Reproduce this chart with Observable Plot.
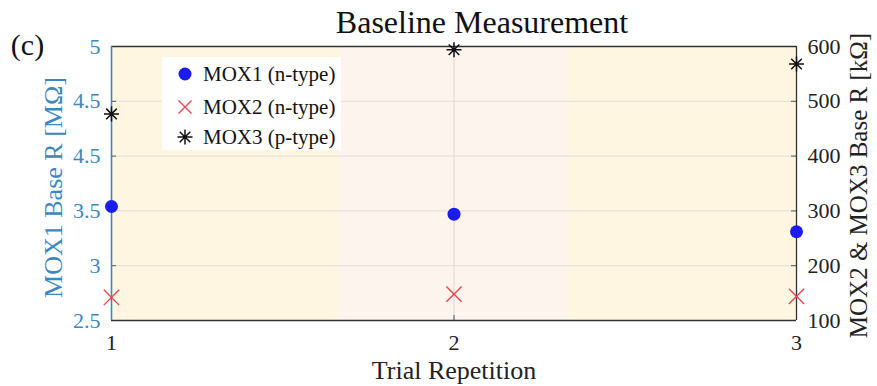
<!DOCTYPE html>
<html><head><meta charset="utf-8">
<script src="https://cdn.jsdelivr.net/npm/d3@7"></script>
<script src="https://cdn.jsdelivr.net/npm/@observablehq/plot@0.6"></script>
<style>
body{margin:0;background:#fff;}
#wrap{position:relative;width:877px;height:386px;font-family:"Liberation Serif","Times New Roman",serif;}
#legend{position:absolute;left:162px;top:57px;width:179px;height:93px;background:#fff;}
#legend .row{position:absolute;left:0;height:24px;display:flex;align-items:center;font-size:21px;color:#111;white-space:nowrap;}
#legend svg{width:36px;height:24px;margin-left:5px;}
</style></head><body><div id="wrap"><div id="legend"></div></div>
<script>
// ---- data ----
const trials = [1, 2, 3];
const mox1 = [3.54, 3.47, 3.31];      // MΩ (left axis)
const mox2 = [142, 148, 144];         // kΩ (right axis)
const mox3 = [477, 594, 568];         // kΩ (right axis)
const seriesNames = ["MOX1 (n-type)", "MOX2 (n-type)", "MOX3 (p-type)"];
const leftTicks = [2.5, 3, 3.5, 4, 4.5, 5];
const leftTickLabels = ["2.5", "3", "3.5", "4.5", "4.5", "5"];
const rightTicks = [100, 200, 300, 400, 500, 600];
const xTicks = [1, 2, 3];
const bandStart = [1, 5/3, 7/3];
const bandEnd = [5/3, 7/3, 3];
const bandFill = ["#fff6e2", "#fdf4ee", "#fff6e2"];

// ---- styles ----
const blue = "#3a88bf";
const c1 = "#1c1cee", c2 = "#e8444e", c3 = "#111";
const toLeft = v => 2.5 + (v - 100) / 200;   // map kΩ onto the left scale
const toRight = y => Math.round((y - 2.5) * 200 + 100);

// 8-armed asterisk (plus + times), like MATLAB's '*'
const star8 = {
  draw(ctx, size) {
    const r = Math.sqrt(size / Math.PI);
    const d = r * Math.SQRT1_2;
    ctx.moveTo(0, -r); ctx.lineTo(0, r);
    ctx.moveTo(-r, 0); ctx.lineTo(r, 0);
    ctx.moveTo(-d, -d); ctx.lineTo(d, d);
    ctx.moveTo(d, -d); ctx.lineTo(-d, d);
  }
};

const bands = bandStart.map((s, i) => ({s, e: bandEnd[i], f: bandFill[i]}));
const d1 = trials.map((t, i) => ({t, v: mox1[i]}));
const d2 = trials.map((t, i) => ({t, v: toLeft(mox2[i])}));
const d3v = trials.map((t, i) => ({t, v: toLeft(mox3[i])}));

const W = 877, H = 386, ML = 111, MR = 81, MT = 46, MB = 66;
const FW = W - ML - MR, FH = H - MT - MB;

const chart = Plot.plot({
  width: W, height: H,
  marginLeft: ML, marginRight: MR, marginTop: MT, marginBottom: MB,
  style: {fontFamily: '"Liberation Serif","Times New Roman",serif', background: "transparent", overflow: "visible"},
  x: {domain: [1, 3], axis: null},
  y: {domain: [2.5, 5], axis: null},
  marks: [
    Plot.rect(bands, {x1: "s", x2: "e", y1: 2.5, y2: 5, fill: "f"}),
    Plot.gridY(leftTicks, {stroke: "#e4ddd6", strokeOpacity: 1}),
    Plot.gridX(xTicks, {stroke: "#ddd6d0", strokeOpacity: 1}),
    Plot.tickY(leftTicks, {stroke: "#555", insetRight: FW - 5}),
    Plot.tickY(leftTicks, {stroke: "#555", insetLeft: FW - 5}),
    Plot.tickX(xTicks, {stroke: "#555", insetTop: FH - 5}),
    Plot.ruleY([5], {stroke: "#333", strokeWidth: 1.3}),
    Plot.ruleY([2.5], {stroke: "#333", strokeWidth: 1.3}),
    Plot.ruleX([3], {stroke: "#333", strokeWidth: 1.3}),
    Plot.ruleX([1], {stroke: blue, strokeWidth: 1.6}),
    Plot.axisY(leftTicks, {anchor: "left", tickSize: 0, tickPadding: 11, fontSize: 22, color: blue,
      tickFormat: d => leftTickLabels[leftTicks.indexOf(d)], label: null}),
    Plot.axisY(rightTicks.map(toLeft), {anchor: "right", tickSize: 0, tickPadding: 11, fontSize: 22, color: "#222",
      tickFormat: d => String(toRight(d)), label: null}),
    Plot.axisX(xTicks, {anchor: "bottom", tickSize: 0, tickPadding: 14, fontSize: 22, color: "#222",
      tickFormat: d => String(d), label: null}),
    Plot.dot(d1, {x: "t", y: "v", r: 6.5, fill: c1, stroke: "none", symbol: "circle"}),
    Plot.dot(d2, {x: "t", y: "v", r: 7, stroke: c2, strokeWidth: 1.4, symbol: "times"}),
    Plot.dot(d3v, {x: "t", y: "v", r: 7.5, stroke: c3, strokeWidth: 1.5, symbol: star8}),
    Plot.text(["Baseline Measurement"], {frameAnchor: "top", dx: 28, dy: -36, fontSize: 32, fill: "#111"}),
    Plot.text(["(c)"], {frameAnchor: "top-left", dx: -84, dy: -13, fontSize: 30, fill: "#111", textAnchor: "middle"}),
    Plot.text(["Trial Repetition"], {frameAnchor: "bottom", dy: 58, fontSize: 26, fill: "#222"}),
    Plot.text(["MOX1 Base R [MΩ]"], {frameAnchor: "left", dx: -58, dy: 4, rotate: -90, fontSize: 26, fill: blue, textAnchor: "middle"}),
    Plot.text(["MOX2 & MOX3 Base R [kΩ]"], {frameAnchor: "right", dx: 62, dy: 2, rotate: -90, fontSize: 25, fill: "#222", textAnchor: "middle"})
  ]
});
chart.style.position = "absolute";
chart.style.left = "0";
chart.style.top = "0";
const wrap = document.getElementById("wrap");
wrap.insertBefore(chart, wrap.firstChild);

// ---- legend ----
const legend = document.getElementById("legend");
const markerSvgs = [
  `<circle cx="18" cy="12" r="6.5" fill="${c1}"/>`,
  `<path d="M11.5,5.5L24.5,18.5M24.5,5.5L11.5,18.5" stroke="${c2}" stroke-width="1.4"/>`,
  `<path d="M18,4.5V19.5M10.5,12H25.5M12.7,6.7L23.3,17.3M23.3,6.7L12.7,17.3" stroke="${c3}" stroke-width="1.5"/>`
];
const rowTops = [5, 38, 68];
seriesNames.forEach((name, i) => {
  const row = document.createElement("div");
  row.className = "row";
  row.style.top = rowTops[i] + "px";
  row.innerHTML = `<svg viewBox="0 0 36 24">${markerSvgs[i]}</svg><span>${name}</span>`;
  legend.appendChild(row);
});
</script>
</body></html>
